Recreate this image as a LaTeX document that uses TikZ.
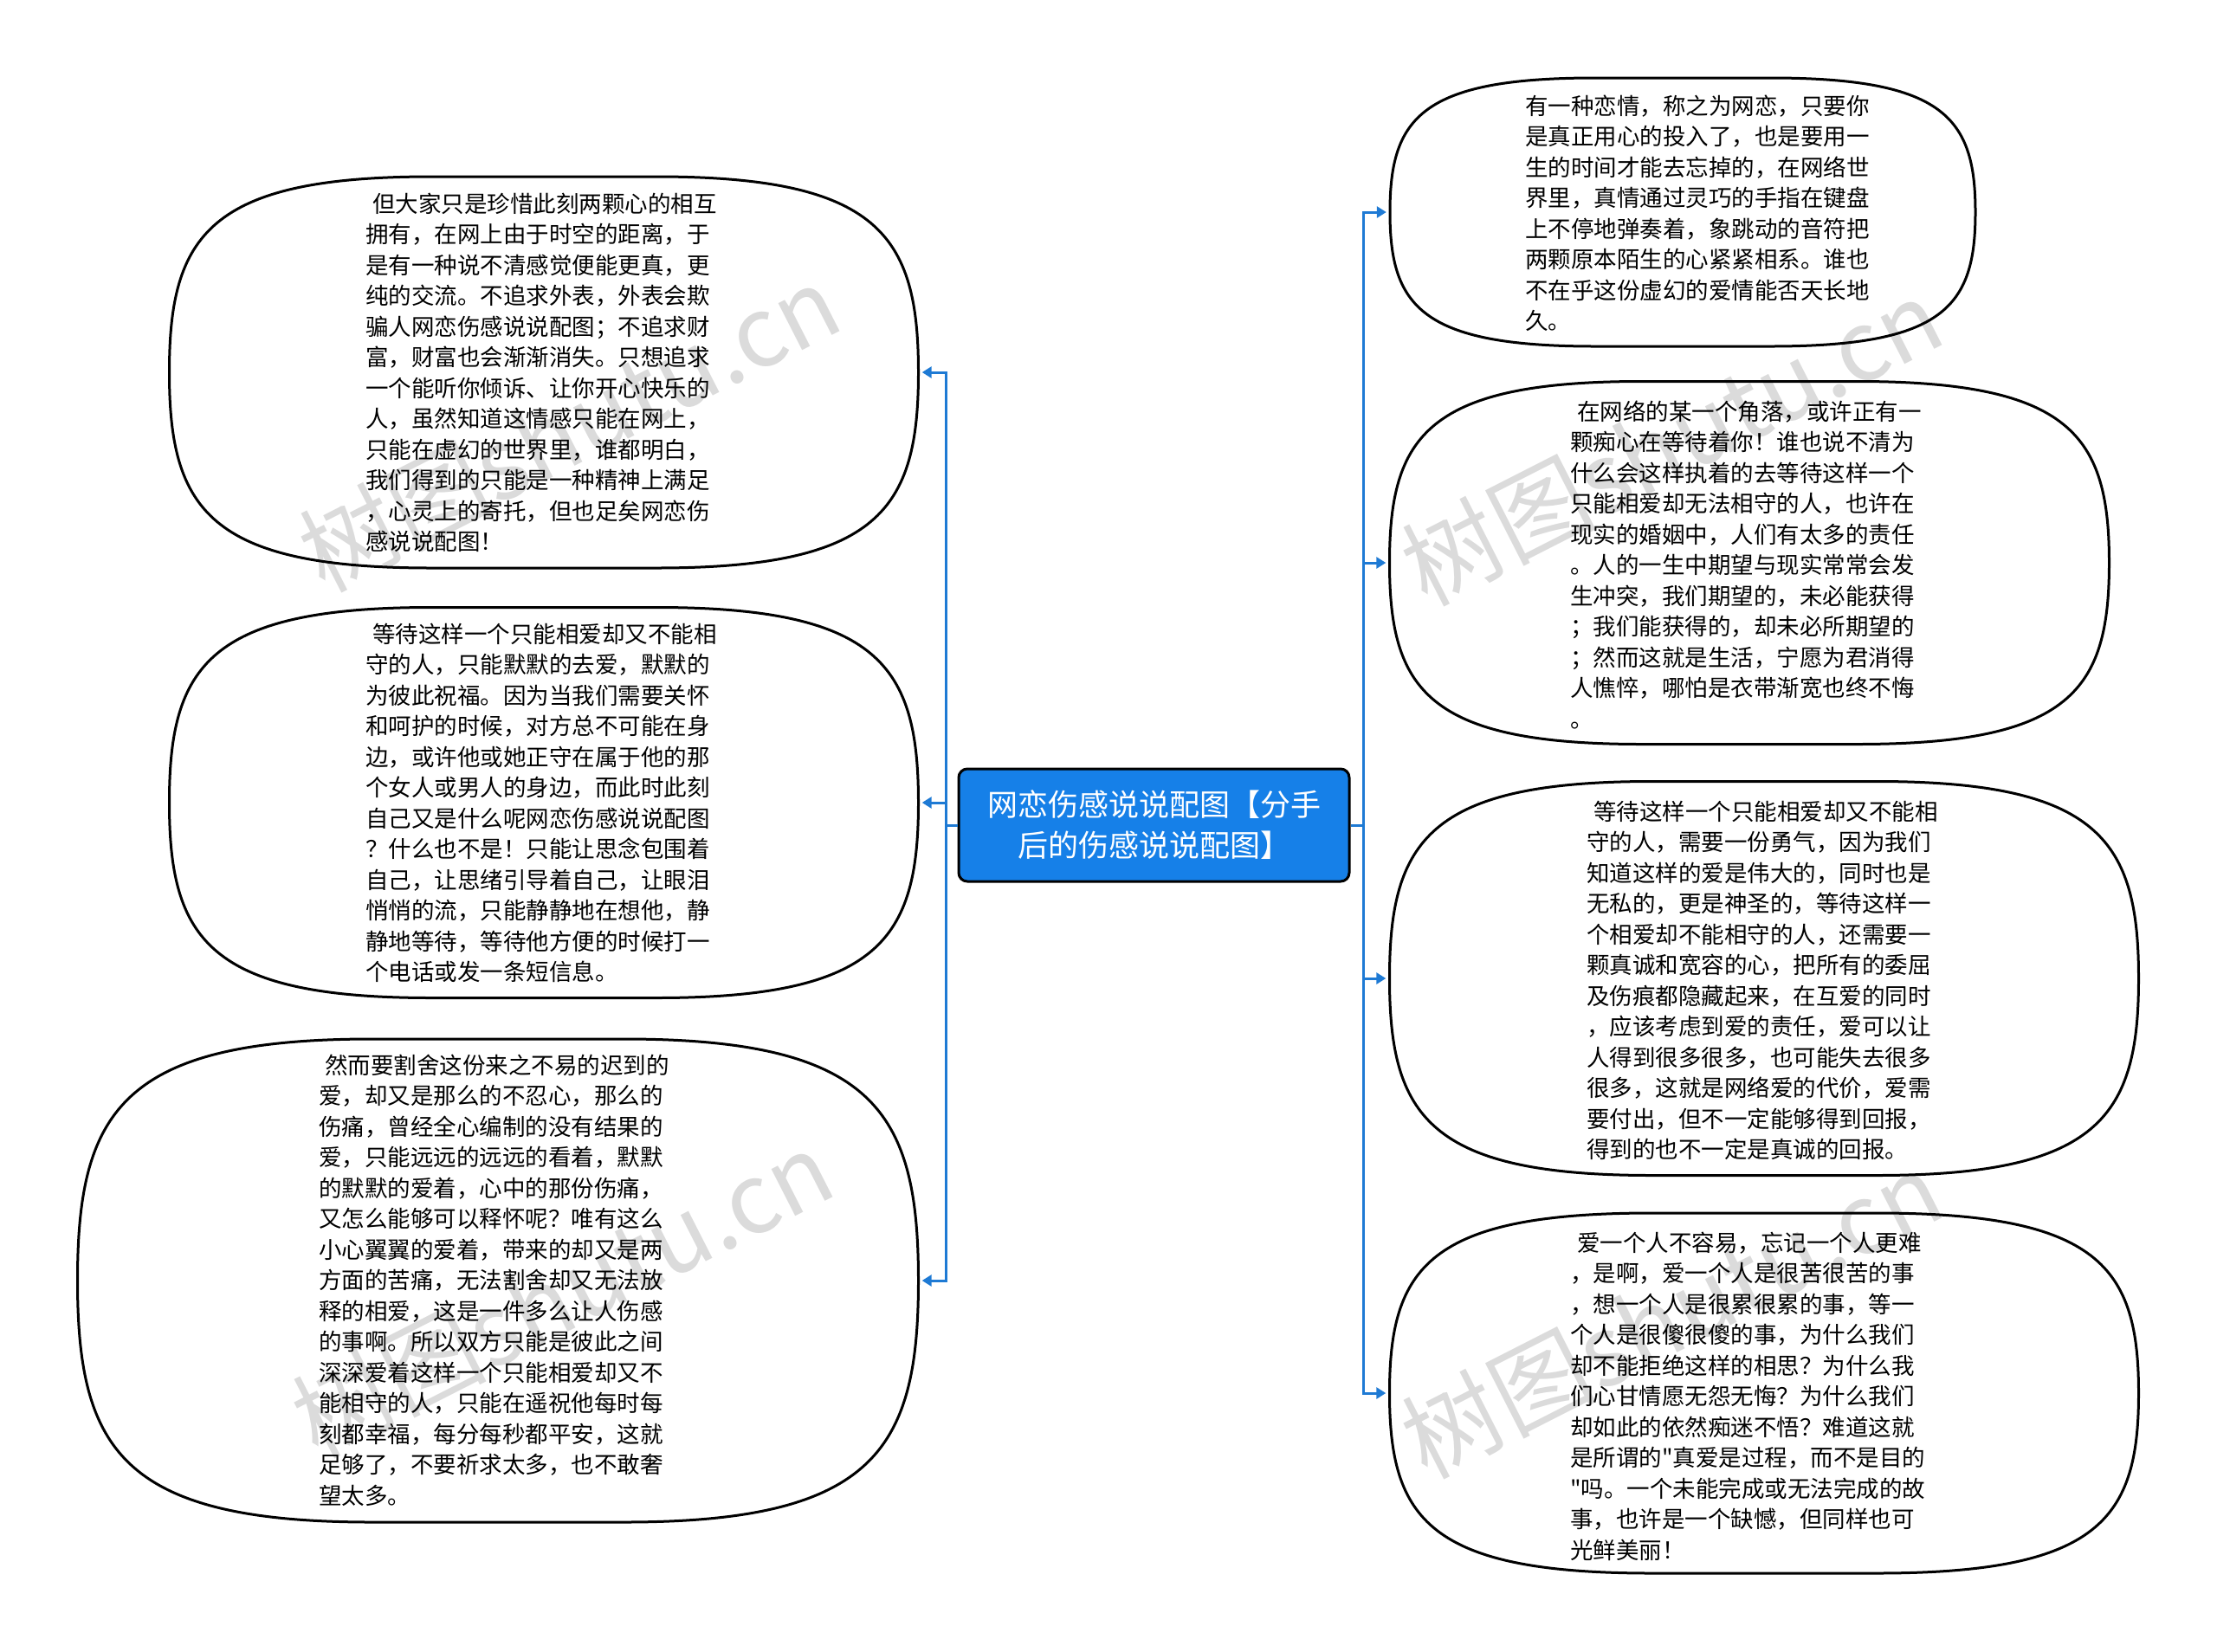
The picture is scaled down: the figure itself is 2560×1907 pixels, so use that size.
\documentclass[tikz,border=0pt]{standalone}
\usepackage{fontspec}
\newfontfamily\cjk{Noto Sans CJK SC}
\usetikzlibrary{arrows.meta}
\definecolor{boxblue}{RGB}{22,128,232}
\definecolor{lineblue}{RGB}{30,122,212}
\tikzset{
 bubnode/.style={rectangle, draw=none, inner sep=0pt},
 bubline/.style={draw=black, line width=3pt},
 btext/.style={anchor=base west, inner sep=0pt, font=\cjk\fontsize{26.5pt}{35.5pt}\selectfont},
 conn/.style={draw=lineblue, line width=3pt, -{Triangle[length=11pt,width=13pt]}, shorten >=4pt},
 bus/.style={draw=lineblue, line width=3pt},
 wmark/.style={text=black!14, font=\cjk\fontsize{112pt}{112pt}\selectfont, rotate=27, inner sep=0pt},
 centerbox/.style={draw=black, line width=3pt, fill=boxblue, rounded corners=10pt, minimum width=451pt, minimum height=130pt, text=white, align=center, font=\cjk\fontsize{35pt}{47pt}\selectfont},
}
\newcommand{\tbx}[1]{\parbox[t]{600pt}{\raggedright #1}}
\newcommand{\ind}{\hspace*{8pt}}
% name, cx, cy, width, height
\newcommand{\bub}[5]{%
 \node[bubnode, minimum width=#4pt, minimum height=#5pt] (#1) at (#2,#3) {};
 \pgfmathsetmacro{\ba}{#4/2}%
 \pgfmathsetmacro{\bb}{#5/2}%
 \pgfmathsetmacro{\bR}{0.35*#4}%
 \pgfmathsetmacro{\bxa}{\ba-\bR}%
 \pgfmathsetmacro{\bxb}{\ba-0.15*\bR}%
 \pgfmathsetmacro{\byk}{0.7*\bb}%
 \begin{scope}[shift={(#2,#3)}]
 \draw[bubline] (-\ba,0) .. controls (-\ba,-\byk) and (-\bxb,-\bb) .. (-\bxa,-\bb)
   -- (\bxa,-\bb) .. controls (\bxb,-\bb) and (\ba,-\byk) .. (\ba,0)
   .. controls (\ba,\byk) and (\bxb,\bb) .. (\bxa,\bb)
   -- (-\bxa,\bb) .. controls (-\bxb,\bb) and (-\ba,\byk) .. cycle;
 \end{scope}
}
\begin{document}
\begin{tikzpicture}[x=1pt,y=-1pt]
\useasboundingbox (0,0) rectangle (2560,1907);
% watermarks
\node[wmark] (w1) at (657,494) {树图shutu.cn};
\node[wmark] (w2) at (1930,510) {树图shutu.cn};
\node[wmark] (w3) at (649,1494) {树图shutu.cn};
\node[wmark] (w4) at (1930,1518) {树图shutu.cn};
% bubbles
\bub{L1}{628}{430}{865}{452}
\bub{L2}{628}{927}{865}{451}
\bub{L3}{575}{1479}{971}{558}
\bub{R1}{1943}{245}{676}{310}
\bub{R2}{2020}{650}{831}{419}
\bub{R3}{2037}{1130}{865}{455}
\bub{R4}{2037}{1609}{865}{416}
% center
\node[centerbox] (C) at (1332.5,953) {网恋伤感说说配图【分手\\后的伤感说说配图】};
% connectors
\coordinate (bl) at (1092,953);
\coordinate (br) at (1574,953);
\draw[bus] (C.west) -- (bl);
\draw[bus] (C.east) -- (br);
\draw[conn] (bl) |- (L1);
\draw[conn] (bl) |- (L2);
\draw[conn] (bl) |- (L3);
\draw[conn] (br) |- (R1);
\draw[conn] (br) |- (R2);
\draw[conn] (br) |- (R3);
\draw[conn] (br) |- (R4);
% texts
\node[btext] (L1t) at (422,245) {\tbx{\ind 但大家只是珍惜此刻两颗心的相互\\
拥有，在网上由于时空的距离，于\\
是有一种说不清感觉便能更真，更\\
纯的交流。不追求外表，外表会欺\\
骗人网恋伤感说说配图；不追求财\\
富，财富也会渐渐消失。只想追求\\
一个能听你倾诉、让你开心快乐的\\
人，虽然知道这情感只能在网上，\\
只能在虚幻的世界里，谁都明白，\\
我们得到的只能是一种精神上满足\\
，心灵上的寄托，但也足矣网恋伤\\
感说说配图！}};
\node[btext] (L2t) at (422,742) {\tbx{\ind 等待这样一个只能相爱却又不能相\\
守的人，只能默默的去爱，默默的\\
为彼此祝福。因为当我们需要关怀\\
和呵护的时候，对方总不可能在身\\
边，或许他或她正守在属于他的那\\
个女人或男人的身边，而此时此刻\\
自己又是什么呢网恋伤感说说配图\\
？什么也不是！只能让思念包围着\\
自己，让思绪引导着自己，让眼泪\\
悄悄的流，只能静静地在想他，静\\
静地等待，等待他方便的时候打一\\
个电话或发一条短信息。}};
\node[btext] (L3t) at (368,1240) {\tbx{\hspace*{7pt}然而要割舍这份来之不易的迟到的\\
爱，却又是那么的不忍心，那么的\\
伤痛，曾经全心编制的没有结果的\\
爱，只能远远的远远的看着，默默\\
的默默的爱着，心中的那份伤痛，\\
又怎么能够可以释怀呢？唯有这么\\
小心翼翼的爱着，带来的却又是两\\
方面的苦痛，无法割舍却又无法放\\
释的相爱，这是一件多么让人伤感\\
的事啊。所以双方只能是彼此之间\\
深深爱着这样一个只能相爱却又不\\
能相守的人，只能在遥祝他每时每\\
刻都幸福，每分每秒都平安，这就\\
足够了，不要祈求太多，也不敢奢\\
望太多。}};
\node[btext] (R1t) at (1761,132) {\tbx{有一种恋情，称之为网恋，只要你\\
是真正用心的投入了，也是要用一\\
生的时间才能去忘掉的，在网络世\\
界里，真情通过灵巧的手指在键盘\\
上不停地弹奏着，象跳动的音符把\\
两颗原本陌生的心紧紧相系。谁也\\
不在乎这份虚幻的爱情能否天长地\\
久。}};
\node[btext] (R2t) at (1813,485) {\tbx{\ind 在网络的某一个角落，或许正有一\\
颗痴心在等待着你！谁也说不清为\\
什么会这样执着的去等待这样一个\\
只能相爱却无法相守的人，也许在\\
现实的婚姻中，人们有太多的责任\\
。人的一生中期望与现实常常会发\\
生冲突，我们期望的，未必能获得\\
；我们能获得的，却未必所期望的\\
；然而这就是生活，宁愿为君消得\\
人憔悴，哪怕是衣带渐宽也终不悔\\
。}};
\node[btext] (R3t) at (1832,947) {\tbx{\ind 等待这样一个只能相爱却又不能相\\
守的人，需要一份勇气，因为我们\\
知道这样的爱是伟大的，同时也是\\
无私的，更是神圣的，等待这样一\\
个相爱却不能相守的人，还需要一\\
颗真诚和宽容的心，把所有的委屈\\
及伤痕都隐藏起来，在互爱的同时\\
，应该考虑到爱的责任，爱可以让\\
人得到很多很多，也可能失去很多\\
很多，这就是网络爱的代价，爱需\\
要付出，但不一定能够得到回报，\\
得到的也不一定是真诚的回报。}};
\node[btext] (R4t) at (1813,1445) {\tbx{\ind 爱一个人不容易，忘记一个人更难\\
，是啊，爱一个人是很苦很苦的事\\
，想一个人是很累很累的事，等一\\
个人是很傻很傻的事，为什么我们\\
却不能拒绝这样的相思？为什么我\\
们心甘情愿无怨无悔？为什么我们\\
却如此的依然痴迷不悟？难道这就\\
是所谓的"真爱是过程，而不是目的\\
"吗。一个未能完成或无法完成的故\\
事，也许是一个缺憾，但同样也可\\
光鲜美丽！}};
\end{tikzpicture}
\end{document}
